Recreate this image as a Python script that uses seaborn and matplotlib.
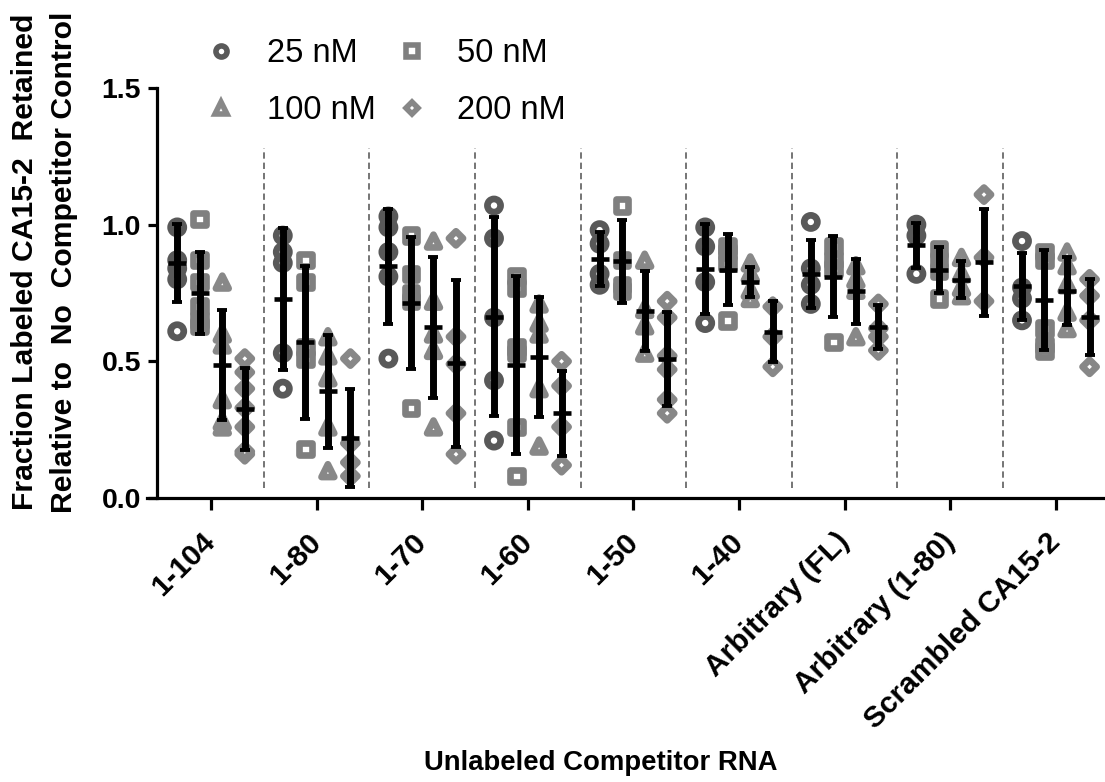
import numpy as np
import pandas as pd
import matplotlib
matplotlib.use("Agg")
import matplotlib.pyplot as plt
from matplotlib.lines import Line2D
import seaborn as sns

# ---------------- data ----------------
categories = ["1-104", "1-80", "1-70", "1-60", "1-50", "1-40",
              "Arbitrary (FL)", "Arbitrary (1-80)", "Scrambled CA15-2"]
concentrations = ["25 nM", "50 nM", "100 nM", "200 nM"]

pts_25 = [[0.99, 0.87, 0.84, 0.80, 0.61],
          [0.96, 0.90, 0.86, 0.53, 0.40],
          [1.03, 0.99, 0.90, 0.81, 0.51],
          [1.07, 0.95, 0.66, 0.43, 0.21],
          [0.98, 0.93, 0.82, 0.78],
          [0.99, 0.92, 0.79, 0.64],
          [1.01, 0.84, 0.78, 0.71],
          [1.00, 0.96, 0.82],
          [0.94, 0.77, 0.73, 0.65]]
pts_50 = [[1.02, 0.87, 0.79, 0.70, 0.65, 0.63],
          [0.87, 0.79, 0.55, 0.51, 0.18],
          [0.96, 0.82, 0.75, 0.72, 0.33],
          [0.81, 0.77, 0.55, 0.53, 0.26, 0.08],
          [1.07, 0.87, 0.78, 0.76],
          [0.92, 0.90, 0.86, 0.65],
          [0.92, 0.87, 0.84, 0.57],
          [0.91, 0.87, 0.83, 0.73],
          [0.90, 0.87, 0.62, 0.56, 0.54]]
pts_100 = [[0.79, 0.60, 0.56, 0.36, 0.28, 0.26],
           [0.59, 0.52, 0.44, 0.26, 0.10],
           [0.94, 0.72, 0.60, 0.54, 0.26],
           [0.71, 0.64, 0.60, 0.40, 0.19],
           [0.87, 0.69, 0.63, 0.53],
           [0.86, 0.82, 0.76, 0.73],
           [0.85, 0.80, 0.76, 0.59],
           [0.88, 0.82, 0.77, 0.74],
           [0.90, 0.85, 0.78, 0.68, 0.62]]
pts_200 = [[0.51, 0.46, 0.40, 0.33, 0.26, 0.17, 0.16],
           [0.51, 0.20, 0.13, 0.08],
           [0.95, 0.59, 0.49, 0.31, 0.16],
           [0.50, 0.41, 0.26, 0.12],
           [0.72, 0.66, 0.52, 0.47, 0.36, 0.31],
           [0.70, 0.59, 0.48],
           [0.71, 0.62, 0.59, 0.54],
           [1.11, 0.88, 0.72],
           [0.80, 0.74, 0.65, 0.48]]

mean_25 = [0.86, 0.729, 0.847, 0.664, 0.874, 0.838, 0.82, 0.924, 0.774]
sd_25 = [0.144, 0.26, 0.212, 0.363, 0.098, 0.165, 0.124, 0.082, 0.124]
mean_50 = [0.75, 0.57, 0.713, 0.487, 0.866, 0.835, 0.81, 0.835, 0.725]
sd_50 = [0.15, 0.28, 0.242, 0.325, 0.152, 0.13, 0.149, 0.085, 0.183]
mean_100 = [0.487, 0.39, 0.624, 0.515, 0.685, 0.79, 0.756, 0.799, 0.758]
sd_100 = [0.20, 0.207, 0.258, 0.22, 0.147, 0.055, 0.12, 0.069, 0.125]
mean_200 = [0.325, 0.219, 0.493, 0.31, 0.508, 0.609, 0.625, 0.863, 0.662]
sd_200 = [0.15, 0.178, 0.306, 0.156, 0.171, 0.11, 0.08, 0.196, 0.138]

yticks = [0.0, 0.5, 1.0, 1.5]
ytick_labels = ["0.0", "0.5", "1.0", "1.5"]

# ---------------- style ----------------
sns.set_style("ticks")
plt.rcParams["font.family"] = ["Liberation Sans", "DejaVu Sans"]
plt.rcParams["text.color"] = "black"
plt.rcParams["axes.labelcolor"] = "black"
plt.rcParams["xtick.color"] = "black"
plt.rcParams["ytick.color"] = "black"

points_by_conc = dict(zip(concentrations, [pts_25, pts_50, pts_100, pts_200]))
means_by_conc = dict(zip(concentrations, [mean_25, mean_50, mean_100, mean_200]))
sds_by_conc = dict(zip(concentrations, [sd_25, sd_50, sd_100, sd_200]))

colors = {"25 nM": "#595959", "50 nM": "#7f7f7f", "100 nM": "#888888", "200 nM": "#878787"}
markers = {"25 nM": "o", "50 nM": "s", "100 nM": "^", "200 nM": "D"}
sizes = {"25 nM": 90, "50 nM": 82, "100 nM": 85, "200 nM": 52}
dodge = {"25 nM": -0.32, "50 nM": -0.107, "100 nM": 0.107, "200 nM": 0.32}

rows = []
for conc in concentrations:
    for gi, vals in enumerate(points_by_conc[conc]):
        for v in vals:
            rows.append({"group": gi, "conc": conc, "x": gi + dodge[conc], "value": v})
df = pd.DataFrame(rows)

fig = plt.figure(figsize=(11.05, 7.82), dpi=100)
ax = fig.add_axes([147 / 1105, 1 - 498 / 782, (1105 - 147) / 1105, (498 - 88) / 782])

sns.scatterplot(data=df, x="x", y="value", hue="conc", style="conc", size="conc",
                hue_order=concentrations, style_order=concentrations,
                size_order=concentrations, palette=colors, markers=markers,
                sizes=sizes, linewidth=4.8, legend=False, ax=ax, zorder=2)
for coll in ax.collections:
    fc = coll.get_facecolor()
    coll.set_edgecolor(fc)
    coll.set_facecolor("none")

# error bars (mean +/- SD)
for conc in concentrations:
    xs = np.arange(len(categories)) + dodge[conc]
    ax.errorbar(xs, means_by_conc[conc], yerr=sds_by_conc[conc], fmt="none",
                ecolor="black", elinewidth=5, capsize=3.7, capthick=2.8, zorder=3)
    ax.plot(xs, means_by_conc[conc], ls="none", marker="_", ms=12.5, mew=3.3,
            color="black", zorder=4)

# group separators
for i in range(len(categories) - 1):
    ax.axvline(i + 0.5, ymin=0.037 / 1.5, ymax=1.28 / 1.5, color="#6a6a6a",
               lw=1.3, ls=(0, (3.5, 2.2)), zorder=1)

ax.set_xlim(-0.606, 8.466)
ax.set_ylim(0, 1.5)
ax.set_yticks(yticks)
ax.set_yticklabels(ytick_labels)
ax.set_xticks(np.arange(len(categories)))
ax.set_xticklabels(categories, rotation=45, ha="right", va="center",
                   rotation_mode="anchor")

for s in ["top", "right"]:
    ax.spines[s].set_visible(False)
for s in ["left", "bottom"]:
    ax.spines[s].set_linewidth(2.3)
    ax.spines[s].set_color("black")
ax.spines["left"].set_position(("axes", 10 / 958))

ax.tick_params(axis="y", length=6.5, width=2.3, pad=5, labelsize=20.5, colors="black")
ax.tick_params(axis="x", length=8.5, width=2.3, pad=20, labelsize=21.5, colors="black")
for lab in ax.get_xticklabels() + ax.get_yticklabels():
    lab.set_fontweight("bold")

ax.set_xlabel("Unlabeled Competitor RNA", fontsize=19.8, fontweight="bold")
ax.xaxis.set_label_coords(0.474, -0.615)
ax.set_ylabel("Fraction Labeled CA15-2  Retained\nRelative to  No  Competitor Control",
              fontsize=21.7, fontweight="bold", linespacing=1.5)
ax.yaxis.set_label_coords(-0.072, 0.576)

handles = [Line2D([], [], ls="none", marker=markers[c], ms=(8 if c != "200 nM" else 5.8),
                  mfc="none", mec=colors[c], mew=4) for c in concentrations]
order = [0, 2, 1, 3]
leg = fig.legend([handles[i] for i in order], [concentrations[i] for i in order],
                 ncol=2, loc="upper left", bbox_to_anchor=(205 / 1105, 1 - 38 / 782),
                 frameon=False, fontsize=23.5, handlelength=1.0, handletextpad=0.9,
                 columnspacing=0.6, labelspacing=0.8, borderpad=0, borderaxespad=0)

fig.savefig("out.png", dpi=100)
